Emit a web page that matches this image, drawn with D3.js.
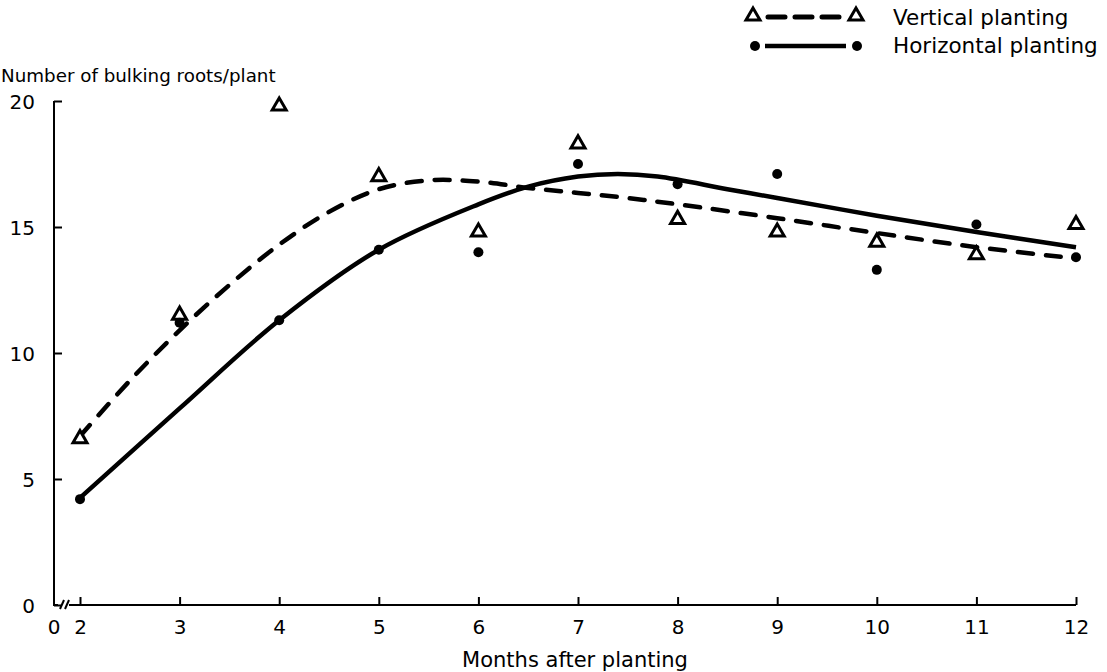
<!DOCTYPE html>
<html>
<head>
<meta charset="utf-8">
<script src="https://cdn.jsdelivr.net/npm/d3@7"></script>
<style>
  body { margin: 0; background: #fff; }
  text { font-family: "DejaVu Sans", sans-serif; fill: #000; }
</style>
</head>
<body>
<svg id="chart" width="1107" height="672"></svg>
<script>
// observed means (months after planting)
var months = [2, 3, 4, 5, 6, 7, 8, 9, 10, 11, 12];
var vertical = [6.6, 11.5, 19.8, 17.0, 14.8, 18.3, 15.3, 14.8, 14.4, 13.9, 15.1];
var horizontal = [4.2, 11.2, 11.3, 14.1, 14.0, 17.5, 16.7, 17.1, 13.3, 15.1, 13.8];

// fitted curves
var vertFitX = [2, 2.5, 3, 3.5, 4, 4.5, 5, 5.5, 6, 6.5, 7, 7.5, 8, 9, 10, 11, 12];
var vertFitY = [6.7, 8.9, 10.9, 12.7, 14.3, 15.6, 16.5, 16.85, 16.8, 16.55, 16.35, 16.15, 15.9, 15.35, 14.76, 14.2, 13.75];
var horFitX = [2, 3, 4, 5, 6, 6.5, 7, 7.4, 7.8, 8.5, 9, 10, 11, 12];
var horFitY = [4.25, 7.8, 11.3, 14.1, 15.9, 16.6, 17.0, 17.1, 17.0, 16.5, 16.15, 15.45, 14.8, 14.2];

var yTicks = [0, 5, 10, 15, 20];
var xTicks = [2, 3, 4, 5, 6, 7, 8, 9, 10, 11, 12];

var svg = d3.select("#chart");

var originX = 54;
var x = d3.scaleLinear().domain([2, 12]).range([80, 1076]);
var y = d3.scaleLinear().domain([0, 20]).range([605, 101]);

// y axis
var yAxis = d3.axisLeft(y).tickValues(yTicks).tickSize(-8).tickPadding(19).tickFormat(d3.format("d"));
var gy = svg.append("g").attr("transform", "translate(" + originX + ",0)").call(yAxis);
gy.select(".domain").remove();
gy.selectAll("line").attr("stroke", "#000").attr("stroke-width", 2);
gy.selectAll("text").style("font-size", "20px").attr("dy", "0.36em");
svg.append("path")
  .attr("d", "M" + originX + "," + y(20) + " L" + originX + "," + y(0))
  .attr("stroke", "#000").attr("stroke-width", 2).attr("fill", "none");

// x axis (broken near origin)
var xAxis = d3.axisBottom(x).tickValues(xTicks).tickSize(-8).tickPadding(15).tickFormat(d3.format("d"));
var gx = svg.append("g").attr("transform", "translate(0," + y(0) + ")").call(xAxis);
gx.select(".domain").remove();
gx.selectAll("line").attr("stroke", "#000").attr("stroke-width", 2);
gx.selectAll("text").style("font-size", "20px");
gx.append("text").attr("x", originX).attr("y", 15).attr("dy", "0.71em")
  .attr("text-anchor", "middle").style("font-size", "20px").text("0");

var axisLine = svg.append("g").attr("stroke", "#000").attr("stroke-width", 2).attr("fill", "none");
axisLine.append("path").attr("d", "M" + (originX - 1) + "," + y(0) + " L" + (originX + 4) + "," + y(0));
axisLine.append("path").attr("d", "M" + (originX + 15) + "," + y(0) + " L" + x(12) + "," + y(0));
axisLine.append("path").attr("d", "M" + (originX + 6) + "," + (y(0) + 4) + " L" + (originX + 10) + "," + (y(0) - 5));
axisLine.append("path").attr("d", "M" + (originX + 11) + "," + (y(0) + 4) + " L" + (originX + 15) + "," + (y(0) - 5));

// titles
svg.append("text").attr("x", 1).attr("y", 82).style("font-size", "18.3px").text("Number of bulking roots/plant");
svg.append("text").attr("x", x(6.97)).attr("y", 667).attr("text-anchor", "middle")
  .style("font-size", "21px").text("Months after planting");

// fitted lines
var line = d3.line().x(function (d) { return x(d[0]); }).y(function (d) { return y(d[1]); })
  .curve(d3.curveCatmullRom.alpha(0.5));

svg.append("path").datum(d3.zip(vertFitX, vertFitY))
  .attr("d", line).attr("fill", "none").attr("stroke", "#000")
  .attr("stroke-width", 4.5).attr("stroke-linecap", "round").attr("stroke-dasharray", "15,13");
svg.append("path").datum(d3.zip(horFitX, horFitY))
  .attr("d", line).attr("fill", "none").attr("stroke", "#000")
  .attr("stroke-width", 4.5);

// markers
var tri = d3.symbol().type(d3.symbolTriangle).size(85);
svg.selectAll(".tri").data(d3.zip(months, vertical)).enter()
  .append("path").attr("class", "tri")
  .attr("transform", function (d) { return "translate(" + x(d[0]) + "," + y(d[1]) + ")"; })
  .attr("d", tri).attr("fill", "#fff").attr("stroke", "#000").attr("stroke-width", 3);

svg.selectAll(".dot").data(d3.zip(months, horizontal)).enter()
  .append("circle").attr("class", "dot")
  .attr("cx", function (d) { return x(d[0]); })
  .attr("cy", function (d) { return y(d[1]); })
  .attr("r", 5).attr("fill", "#000");

// legend
var lg = svg.append("g");
lg.append("path").attr("d", "M768,17 L846,17").attr("stroke", "#000").attr("stroke-width", 5)
  .attr("stroke-linecap", "round").attr("stroke-dasharray", "17,10").attr("fill", "none");
[753, 856].forEach(function (px) {
  lg.append("path").attr("transform", "translate(" + px + ",16)").attr("d", tri)
    .attr("fill", "#fff").attr("stroke", "#000").attr("stroke-width", 3);
});
lg.append("text").attr("x", 893).attr("y", 25).style("font-size", "21.5px").text("Vertical planting");

lg.append("path").attr("d", "M765,46 L846,46").attr("stroke", "#000").attr("stroke-width", 4.5).attr("fill", "none");
[755, 857].forEach(function (px) {
  lg.append("circle").attr("cx", px).attr("cy", 46).attr("r", 5).attr("fill", "#000");
});
lg.append("text").attr("x", 893).attr("y", 53).style("font-size", "21.5px").text("Horizontal planting");
</script>
</body>
</html>
